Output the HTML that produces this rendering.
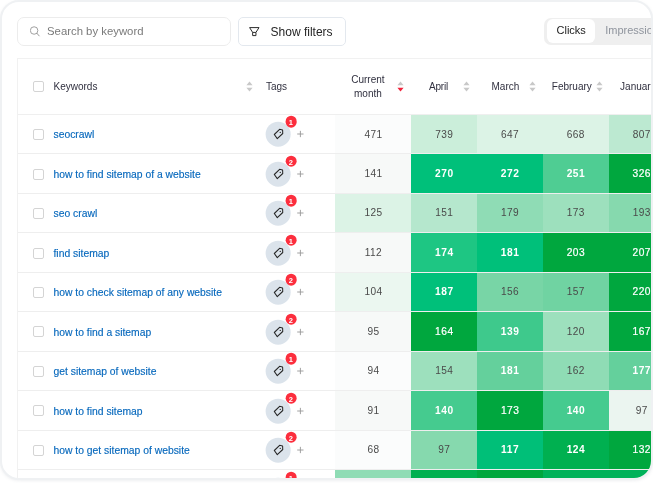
<!DOCTYPE html>
<html><head><meta charset="utf-8"><title>Keywords</title>
<style>
html,body{margin:0;padding:0;background:#fff;}
body{width:653px;height:483px;overflow:hidden;position:relative;font-family:"Liberation Sans",Arial,sans-serif;}
.card{position:absolute;left:0;top:0;width:653px;height:480px;box-sizing:border-box;border:2px solid #eff1f3;border-radius:19px;overflow:hidden;background:#fff;box-shadow:0 1px 3px rgba(120,130,150,.12);}
.inner{position:absolute;left:-2px;top:-2px;width:700px;height:483px;}
.search{position:absolute;left:17px;top:17px;width:214px;height:29px;box-sizing:border-box;border:1px solid #ececec;border-radius:7px;}
.search svg{position:absolute;left:11.5px;top:7.5px;}
.search span{position:absolute;left:29px;top:0;line-height:26.5px;font-size:11.35px;color:#7a7a7a;}
.filt{position:absolute;left:238px;top:17px;width:108px;height:29px;box-sizing:border-box;border:1px solid #e3e8ee;border-radius:5px;}
.filt svg{position:absolute;left:10px;top:9px;}
.filt span{position:absolute;left:31.6px;top:0;line-height:28.2px;font-size:12px;color:#262626;}
.tog{position:absolute;left:544.3px;top:17.7px;width:140px;height:27.5px;background:#efefef;border-radius:7px;}
.tog .on{position:absolute;left:2.7px;top:1.6px;width:48.4px;height:23.8px;background:#fff;border-radius:6px;text-align:center;line-height:23.8px;font-size:11px;color:#222;}
.tog .off{position:absolute;left:60.9px;top:1.6px;line-height:23.8px;font-size:11px;color:#8f949d;}
.tbl{position:absolute;left:17px;top:58px;width:700px;height:440px;border:1px solid #f1f1f1;box-sizing:border-box;}
table{border-collapse:collapse;table-layout:fixed;position:absolute;left:0;top:0;}
th{height:55.3px;padding:0;font-weight:normal;font-size:10px;color:#30303f;border-bottom:1px solid #efefef;position:relative;box-sizing:border-box;}
td{height:39.47px;padding:0;box-sizing:border-box;border-bottom:1px solid rgba(228,228,228,.62);position:relative;}
td.n{text-align:center;font-size:10.1px;letter-spacing:.4px;padding-left:.4px;color:#4a4a4a;}
td.n.b{color:#fff;font-weight:bold;font-size:10.2px;letter-spacing:.55px;padding-left:.55px;}
td.n.m{font-weight:normal;font-size:10.2px;letter-spacing:.5px;padding-left:.5px;-webkit-text-stroke:0.2px #fff;}
td.kw a{position:absolute;left:35.5px;top:0;line-height:41.6px;font-size:10.35px;color:#0869bd;white-space:nowrap;-webkit-text-stroke:0.15px #0869bd;}
.cb{position:absolute;left:15.3px;top:14.8px;width:11.2px;height:11px;box-sizing:border-box;border:1px solid #d4d4d4;border-radius:2px;background:#fff;}
th .cb{top:22.3px;}
th .lbl{position:absolute;left:35.5px;top:0;line-height:56px;}
.sort{position:absolute;top:21.7px;}
.circ{position:absolute;left:247px;top:7px;transform:translate(0.65px,0.7px);width:25px;height:25px;border-radius:50%;background:#dbe3eb;}
.tg{position:absolute;left:0;top:0;}
.bd{position:absolute;left:19.5px;top:-6px;width:11.4px;height:11.4px;border-radius:50%;background:#fc2e3d;color:#fff;font-size:7.5px;font-weight:bold;line-height:13.2px;text-align:center;}
.plus{position:absolute;left:278px;top:16px;}
td.tags,td.kw{position:static;}
tr{position:relative;}
</style></head><body>
<div class="card"><div class="inner">
<div class="search"><svg width="12" height="12" viewBox="0 0 12 12"><circle cx="4.1" cy="4.5" r="3.75" fill="none" stroke="#909090" stroke-width="0.85"/><path d="M6.9 7.3 L9.2 9.9" stroke="#909090" stroke-width="0.9" stroke-linecap="round"/></svg><span>Search by keyword</span></div>
<div class="filt"><svg width="11" height="10" viewBox="0 0 11 10"><path d="M0.6 0.6 H10 L6.95 5.4 V8.6 H3.65 V5.4 Z M3.65 5.4 H6.95" fill="none" stroke="#2a2a2a" stroke-width="1" stroke-linejoin="miter"/></svg><span>Show filters</span></div>
<div class="tog"><div class="on">Clicks</div><div class="off">Impressions</div></div>
<div class="tbl"><table>
<colgroup><col style="width:247px"><col style="width:70.4px"><col style="width:75.8px"><col style="width:65.8px"><col style="width:65.8px"><col style="width:65.8px"><col style="width:65.8px"></colgroup>
<tr><th><span class="cb"></span><span class="lbl">Keywords</span><svg class="sort" style="left:228px" width="7" height="11" viewBox="0 0 7 11"><path d="M3.5 0.6 L6.6 4.2 H0.4 Z" fill="#c8c8c8"/><path d="M3.5 10.4 L6.6 6.8 H0.4 Z" fill="#c8c8c8"/></svg></th>
<th><span class="lbl" style="left:1px">Tags</span></th>
<th><span style="position:absolute;left:0;width:65px;top:13.6px;line-height:14.2px;text-align:center">Current<br>month</span><svg class="sort" style="left:61.5px" width="7" height="11" viewBox="0 0 7 11"><path d="M3.5 0.6 L6.6 4.2 H0.4 Z" fill="#c8c8c8"/><path d="M3.5 10.4 L6.6 6.8 H0.4 Z" fill="#f0243c"/></svg></th>
<th><span style="position:absolute;left:17.8px;top:0;line-height:56px;letter-spacing:-.2px">April</span><svg class="sort" style="left:52px" width="7" height="11" viewBox="0 0 7 11"><path d="M3.5 0.6 L6.6 4.2 H0.4 Z" fill="#c8c8c8"/><path d="M3.5 10.4 L6.6 6.8 H0.4 Z" fill="#c8c8c8"/></svg></th>
<th><span style="position:absolute;left:14.5px;top:0;line-height:56px">March</span><svg class="sort" style="left:52px" width="7" height="11" viewBox="0 0 7 11"><path d="M3.5 0.6 L6.6 4.2 H0.4 Z" fill="#c8c8c8"/><path d="M3.5 10.4 L6.6 6.8 H0.4 Z" fill="#c8c8c8"/></svg></th>
<th><span style="position:absolute;left:9px;top:0;line-height:56px">February</span><svg class="sort" style="left:53px" width="7" height="11" viewBox="0 0 7 11"><path d="M3.5 0.6 L6.6 4.2 H0.4 Z" fill="#c8c8c8"/><path d="M3.5 10.4 L6.6 6.8 H0.4 Z" fill="#c8c8c8"/></svg></th>
<th><span style="position:absolute;left:11.5px;top:0;line-height:56px">January</span></th></tr>
<tr><td class="kw"><span class="cb"></span><a>seocrawl</a></td><td class="tags"><span class="circ"><svg class="tg" viewBox="-12.5 -12.5 25 25" width="25" height="25"><path d="M-3.85 0.3 L1.45 -4.85 L4.45 -4.2 L4.6 -0.7 L-0.87 4.43 Z" fill="none" stroke="#262626" stroke-width="1.05" stroke-linejoin="round"/><circle cx="2.1" cy="-1.8" r="0.7" fill="#2e2e2e"/></svg><span class="bd">1</span></span><svg class="plus" width="8" height="8" viewBox="0 0 8 8"><path d="M1.2 4 H7.5 M4.4 0.85 V7.15" stroke="#979797" stroke-width="0.9" fill="none"/></svg></td><td class="n" style="background:#fbfcfc">471</td><td class="n" style="background:#cbeeda">739</td><td class="n" style="background:#dcf3e6">647</td><td class="n" style="background:#dcf3e6">668</td><td class="n" style="background:#bce9d1">807</td></tr>
<tr><td class="kw"><span class="cb"></span><a>how to find sitemap of a website</a></td><td class="tags"><span class="circ"><svg class="tg" viewBox="-12.5 -12.5 25 25" width="25" height="25"><path d="M-3.85 0.3 L1.45 -4.85 L4.45 -4.2 L4.6 -0.7 L-0.87 4.43 Z" fill="none" stroke="#262626" stroke-width="1.05" stroke-linejoin="round"/><circle cx="2.1" cy="-1.8" r="0.7" fill="#2e2e2e"/></svg><span class="bd">2</span></span><svg class="plus" width="8" height="8" viewBox="0 0 8 8"><path d="M1.2 4 H7.5 M4.4 0.85 V7.15" stroke="#979797" stroke-width="0.9" fill="none"/></svg></td><td class="n" style="background:#f7f9f8">141</td><td class="n b" style="background:#00c07a">270</td><td class="n b" style="background:#00c07a">272</td><td class="n b" style="background:#4fcd93">251</td><td class="n b m" style="background:#00a73e">326</td></tr>
<tr><td class="kw"><span class="cb"></span><a>seo crawl</a></td><td class="tags"><span class="circ"><svg class="tg" viewBox="-12.5 -12.5 25 25" width="25" height="25"><path d="M-3.85 0.3 L1.45 -4.85 L4.45 -4.2 L4.6 -0.7 L-0.87 4.43 Z" fill="none" stroke="#262626" stroke-width="1.05" stroke-linejoin="round"/><circle cx="2.1" cy="-1.8" r="0.7" fill="#2e2e2e"/></svg><span class="bd">1</span></span><svg class="plus" width="8" height="8" viewBox="0 0 8 8"><path d="M1.2 4 H7.5 M4.4 0.85 V7.15" stroke="#979797" stroke-width="0.9" fill="none"/></svg></td><td class="n" style="background:#dcf3e6">125</td><td class="n" style="background:#b5e7cd">151</td><td class="n" style="background:#8fdcb5">179</td><td class="n" style="background:#9de0bd">173</td><td class="n" style="background:#86d9ae">193</td></tr>
<tr><td class="kw"><span class="cb"></span><a>find sitemap</a></td><td class="tags"><span class="circ"><svg class="tg" viewBox="-12.5 -12.5 25 25" width="25" height="25"><path d="M-3.85 0.3 L1.45 -4.85 L4.45 -4.2 L4.6 -0.7 L-0.87 4.43 Z" fill="none" stroke="#262626" stroke-width="1.05" stroke-linejoin="round"/><circle cx="2.1" cy="-1.8" r="0.7" fill="#2e2e2e"/></svg><span class="bd">1</span></span><svg class="plus" width="8" height="8" viewBox="0 0 8 8"><path d="M1.2 4 H7.5 M4.4 0.85 V7.15" stroke="#979797" stroke-width="0.9" fill="none"/></svg></td><td class="n" style="background:#f7f9f8">112</td><td class="n b" style="background:#1ec683">174</td><td class="n b" style="background:#00c07a">181</td><td class="n b m" style="background:#00a73e">203</td><td class="n b m" style="background:#00a73e">207</td></tr>
<tr><td class="kw"><span class="cb"></span><a>how to check sitemap of any website</a></td><td class="tags"><span class="circ"><svg class="tg" viewBox="-12.5 -12.5 25 25" width="25" height="25"><path d="M-3.85 0.3 L1.45 -4.85 L4.45 -4.2 L4.6 -0.7 L-0.87 4.43 Z" fill="none" stroke="#262626" stroke-width="1.05" stroke-linejoin="round"/><circle cx="2.1" cy="-1.8" r="0.7" fill="#2e2e2e"/></svg><span class="bd">2</span></span><svg class="plus" width="8" height="8" viewBox="0 0 8 8"><path d="M1.2 4 H7.5 M4.4 0.85 V7.15" stroke="#979797" stroke-width="0.9" fill="none"/></svg></td><td class="n" style="background:#ebf7f0">104</td><td class="n b" style="background:#00c07a">187</td><td class="n" style="background:#78d5a6">156</td><td class="n" style="background:#70d3a2">157</td><td class="n b m" style="background:#00a73e">220</td></tr>
<tr><td class="kw"><span class="cb"></span><a>how to find a sitemap</a></td><td class="tags"><span class="circ"><svg class="tg" viewBox="-12.5 -12.5 25 25" width="25" height="25"><path d="M-3.85 0.3 L1.45 -4.85 L4.45 -4.2 L4.6 -0.7 L-0.87 4.43 Z" fill="none" stroke="#262626" stroke-width="1.05" stroke-linejoin="round"/><circle cx="2.1" cy="-1.8" r="0.7" fill="#2e2e2e"/></svg><span class="bd">2</span></span><svg class="plus" width="8" height="8" viewBox="0 0 8 8"><path d="M1.2 4 H7.5 M4.4 0.85 V7.15" stroke="#979797" stroke-width="0.9" fill="none"/></svg></td><td class="n" style="background:#f7f9f8">95</td><td class="n b m" style="background:#00a73e">164</td><td class="n b" style="background:#3ec98c">139</td><td class="n" style="background:#9de0bd">120</td><td class="n b m" style="background:#00a73e">167</td></tr>
<tr><td class="kw"><span class="cb"></span><a>get sitemap of website</a></td><td class="tags"><span class="circ"><svg class="tg" viewBox="-12.5 -12.5 25 25" width="25" height="25"><path d="M-3.85 0.3 L1.45 -4.85 L4.45 -4.2 L4.6 -0.7 L-0.87 4.43 Z" fill="none" stroke="#262626" stroke-width="1.05" stroke-linejoin="round"/><circle cx="2.1" cy="-1.8" r="0.7" fill="#2e2e2e"/></svg><span class="bd">1</span></span><svg class="plus" width="8" height="8" viewBox="0 0 8 8"><path d="M1.2 4 H7.5 M4.4 0.85 V7.15" stroke="#979797" stroke-width="0.9" fill="none"/></svg></td><td class="n" style="background:#fbfcfc">94</td><td class="n" style="background:#9de0bd">154</td><td class="n b" style="background:#64d09c">181</td><td class="n" style="background:#8fdcb5">162</td><td class="n b" style="background:#64d09c">177</td></tr>
<tr><td class="kw"><span class="cb"></span><a>how to find sitemap</a></td><td class="tags"><span class="circ"><svg class="tg" viewBox="-12.5 -12.5 25 25" width="25" height="25"><path d="M-3.85 0.3 L1.45 -4.85 L4.45 -4.2 L4.6 -0.7 L-0.87 4.43 Z" fill="none" stroke="#262626" stroke-width="1.05" stroke-linejoin="round"/><circle cx="2.1" cy="-1.8" r="0.7" fill="#2e2e2e"/></svg><span class="bd">2</span></span><svg class="plus" width="8" height="8" viewBox="0 0 8 8"><path d="M1.2 4 H7.5 M4.4 0.85 V7.15" stroke="#979797" stroke-width="0.9" fill="none"/></svg></td><td class="n" style="background:#f7f9f8">91</td><td class="n b" style="background:#45cb8f">140</td><td class="n b m" style="background:#00a73e">173</td><td class="n b" style="background:#45cb8f">140</td><td class="n" style="background:#ebf5f0">97</td></tr>
<tr><td class="kw"><span class="cb"></span><a>how to get sitemap of website</a></td><td class="tags"><span class="circ"><svg class="tg" viewBox="-12.5 -12.5 25 25" width="25" height="25"><path d="M-3.85 0.3 L1.45 -4.85 L4.45 -4.2 L4.6 -0.7 L-0.87 4.43 Z" fill="none" stroke="#262626" stroke-width="1.05" stroke-linejoin="round"/><circle cx="2.1" cy="-1.8" r="0.7" fill="#2e2e2e"/></svg><span class="bd">2</span></span><svg class="plus" width="8" height="8" viewBox="0 0 8 8"><path d="M1.2 4 H7.5 M4.4 0.85 V7.15" stroke="#979797" stroke-width="0.9" fill="none"/></svg></td><td class="n" style="background:#fbfcfc">68</td><td class="n" style="background:#86d9ae">97</td><td class="n b" style="background:#00bf78">117</td><td class="n b" style="background:#00b050">124</td><td class="n b m" style="background:#00a73e">132</td></tr>
<tr><td class="kw"><span class="cb"></span><a></a></td><td class="tags"><span class="circ"><svg class="tg" viewBox="-12.5 -12.5 25 25" width="25" height="25"><path d="M-3.85 0.3 L1.45 -4.85 L4.45 -4.2 L4.6 -0.7 L-0.87 4.43 Z" fill="none" stroke="#262626" stroke-width="1.05" stroke-linejoin="round"/><circle cx="2.1" cy="-1.8" r="0.7" fill="#2e2e2e"/></svg><span class="bd">1</span></span><svg class="plus" width="8" height="8" viewBox="0 0 8 8"><path d="M1.2 4 H7.5 M4.4 0.85 V7.15" stroke="#979797" stroke-width="0.9" fill="none"/></svg></td><td class="n" style="background:#8fdcb5"></td><td class="n" style="background:#00b050"></td><td class="n" style="background:#00a73e"></td><td class="n" style="background:#00b25a"></td><td class="n" style="background:#00b25a"></td></tr>
</table></div>
</div></div>
</body></html>
